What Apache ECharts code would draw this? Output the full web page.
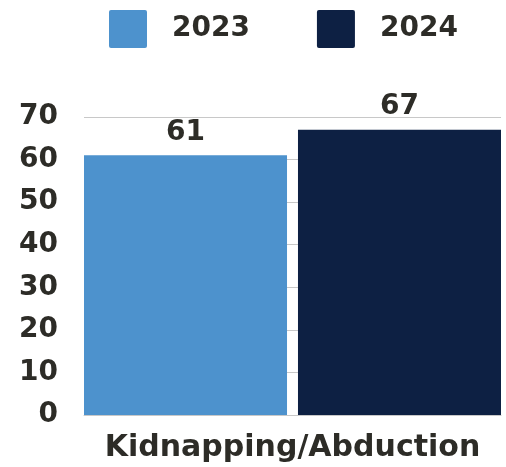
<!DOCTYPE html>
<html><head><meta charset="utf-8">
<script src="https://cdn.jsdelivr.net/npm/echarts@6/dist/echarts.min.js"></script>
<style>html,body{margin:0;padding:0;background:#fff}#c{width:506px;height:467px}</style>
</head><body><div id="c"></div>
<script>
const categories = ["Kidnapping/Abduction"];
const seriesNames = ["2023", "2024"];
const values2023 = [61];
const values2024 = [67];
const yTicks = [0, 10, 20, 30, 40, 50, 60, 70];

const txt = '#2d2c27';
const font = 'DejaVu Sans';
const chart = echarts.init(document.getElementById('c'));
chart.setOption({
  animation: false,
  color: ['#4d92cd', '#0d2043'],
  textStyle: { fontFamily: font },
  legend: {
    top: 5, left: 104, itemWidth: 38, itemHeight: 38, itemGap: 67,
    icon: 'path://M2,0H36A2,2,0,0,1,38,2V36A2,2,0,0,1,36,38H2A2,2,0,0,1,0,36V2A2,2,0,0,1,2,0Z',
    textStyle: { fontSize: 28, fontWeight: 'bold', color: txt, fontFamily: font, padding: [0, 0, 0, 20] },
    data: seriesNames
  },
  grid: { left: 84, right: 5, top: 117, bottom: 52 },
  xAxis: {
    type: 'category', data: categories,
    axisLine: { show: true, lineStyle: { color: '#c8c8c8' } },
    axisTick: { show: false },
    axisLabel: { fontSize: 30, fontWeight: 'bold', color: txt, fontFamily: font, margin: 18 }
  },
  yAxis: {
    type: 'value', min: yTicks[0], max: yTicks[yTicks.length - 1], interval: 10,
    axisLine: { show: false }, axisTick: { show: false },
    splitLine: { lineStyle: { color: '#c8c8c8' } },
    axisLabel: { fontSize: 28, fontWeight: 'bold', color: txt, fontFamily: font, margin: 26 }
  },
  series: [
    { name: seriesNames[0], type: 'bar', data: values2023, barGap: '5.4%', barCategoryGap: 0,
      label: { show: true, position: 'top', fontSize: 28, fontWeight: 'bold', color: txt, fontFamily: font, distance: 9 } },
    { name: seriesNames[1], type: 'bar', data: values2024,
      label: { show: true, position: 'top', fontSize: 28, fontWeight: 'bold', color: txt, fontFamily: font, distance: 9 } }
  ]
});
</script></body></html>
